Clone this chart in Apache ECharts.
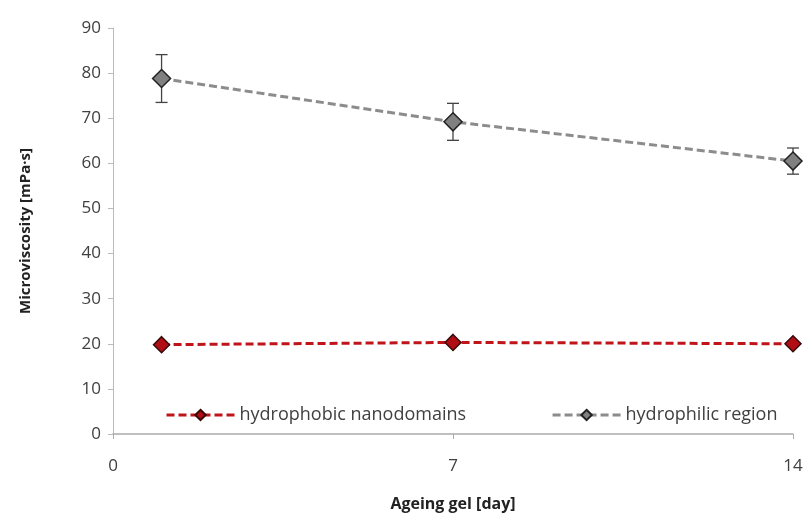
<!DOCTYPE html>
<html><head><meta charset="utf-8">
<script src="https://cdn.jsdelivr.net/npm/echarts@6/dist/echarts.min.js"></script>
<style>html,body{margin:0;padding:0;background:#fff}#c{width:808px;height:513px}</style>
</head><body><div id="c"></div>
<script>
const days = [1, 7, 14];
const hydrophobic = [19.8, 20.3, 20.0];
const hydrophobicErr = [0.8, 0.8, 0.8];
const hydrophilic = [78.8, 69.2, 60.5];
const hydrophilicErr = [5.3, 4.1, 2.9];
const xTicks = [0, 7, 14];
const seriesNames = ['hydrophobic nanodomains', 'hydrophilic region'];

const chart = echarts.init(document.getElementById('c'));
function errSeries(vals, errs, color) {
  return {
    type: 'custom',
    silent: true,
    z: 1,
    data: days.map((d, i) => [d, vals[i] - errs[i], vals[i] + errs[i]]),
    renderItem: function (params, api) {
      const lo = api.coord([api.value(0), api.value(1)]);
      const hi = api.coord([api.value(0), api.value(2)]);
      const w = 6;
      const st = { stroke: color, lineWidth: 1.3 };
      return { type: 'group', children: [
        { type: 'line', shape: { x1: lo[0], y1: lo[1], x2: hi[0], y2: hi[1] }, style: st },
        { type: 'line', shape: { x1: lo[0] - w, y1: lo[1], x2: lo[0] + w, y2: lo[1] }, style: st },
        { type: 'line', shape: { x1: hi[0] - w, y1: hi[1], x2: hi[0] + w, y2: hi[1] }, style: st }
      ]};
    }
  };
}
const font = 'Open Sans, Liberation Sans, sans-serif';
chart.setOption({
  animation: false,
  backgroundColor: '#fff',
  grid: { left: 113, right: 15, top: 28, bottom: 79, containLabel: false, outerBoundsMode: 'none' },
  legend: {
    left: 160, top: 401,
    itemWidth: 68, itemHeight: 13, itemGap: 85,
    textStyle: { fontFamily: font, fontSize: 18, color: '#404040' },
    lineStyle: { width: 3 },
    data: seriesNames
  },
  xAxis: {
    type: 'value', min: 0, max: 14, interval: 7,
    splitLine: { show: false },
    axisLine: { lineStyle: { color: '#aaaaaa', width: 1.5 } },
    axisTick: { show: true, length: 5, lineStyle: { color: '#aaaaaa' } },
    axisLabel: { fontFamily: font, fontSize: 17, color: '#404040', margin: 24,
      customValues: xTicks },
    name: 'Ageing gel [day]', nameLocation: 'middle', nameGap: 62,
    nameTextStyle: { fontFamily: font, fontSize: 16, fontWeight: 'bold', color: '#222' }
  },
  yAxis: {
    type: 'value', min: 0, max: 90, interval: 10,
    splitLine: { show: false },
    axisLine: { show: true, lineStyle: { color: '#bbbbbb', width: 1 } },
    axisTick: { show: true, length: 5, lineStyle: { color: '#bbbbbb' } },
    axisLabel: { fontFamily: font, fontSize: 17, color: '#404040', margin: 12 },
    name: 'Microviscosity [mPa·s]', nameLocation: 'middle', nameGap: 80,
    nameTextStyle: { fontFamily: font, fontSize: 15, fontWeight: 'bold', color: '#222' }
  },
  series: [
    errSeries(hydrophilic, hydrophilicErr, '#444'),
    {
      name: seriesNames[0], type: 'line', z: 3,
      data: days.map((d, i) => [d, hydrophobic[i]]),
      symbol: 'diamond', symbolSize: 16,
      lineStyle: { color: '#c0141b', width: 3, type: [8, 4] },
      itemStyle: { color: '#b00d15', borderColor: '#3a0a0a', borderWidth: 1.5 }
    },
    {
      name: seriesNames[1], type: 'line', z: 3,
      data: days.map((d, i) => [d, hydrophilic[i]]),
      symbol: 'diamond', symbolSize: 18,
      lineStyle: { color: '#8c8c8c', width: 3, type: [8, 4] },
      itemStyle: { color: '#808080', borderColor: '#222', borderWidth: 1.5 }
    }
  ]
});
</script></body></html>
